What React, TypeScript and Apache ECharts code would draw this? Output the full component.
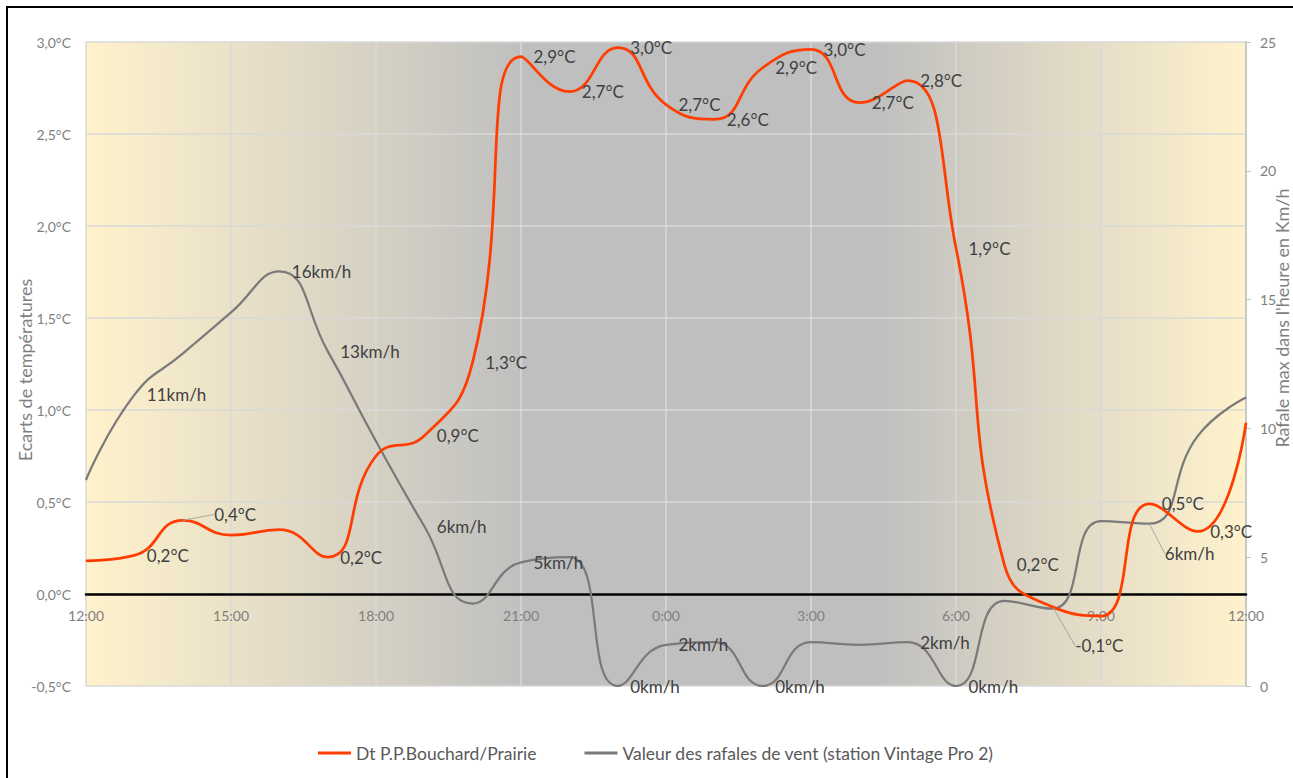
import React, { useEffect, useRef } from "react";
import * as echarts from "echarts";

// Hourly categories from 12:00 to 12:00 next day
const hours = [
  "12:00", "13:00", "14:00", "15:00", "16:00", "17:00", "18:00", "19:00", "20:00",
  "21:00", "22:00", "23:00", "0:00", "1:00", "2:00", "3:00", "4:00", "5:00",
  "6:00", "7:00", "8:00", "9:00", "10:00", "11:00", "12:00",
];

// Dt P.P.Bouchard/Prairie (°C)
const tempDiff = [
  0.18, 0.21, 0.40, 0.32, 0.35, 0.20, 0.75, 0.86, 1.26, 2.92, 2.73, 2.97, 2.66,
  2.58, 2.86, 2.96, 2.67, 2.79, 1.88, 0.16, -0.07, -0.12, 0.49, 0.34, 0.93,
];

// Wind gusts (km/h)
const windGust = [
  8.0, 11.3, 12.9, 14.5, 16.1, 13.0, 9.5, 6.2, 3.2, 4.8, 5.0, 0, 1.6, 1.7, 0,
  1.7, 1.6, 1.7, 0, 3.3, 3.0, 6.4, 6.3, 9.7, 11.2,
];

// Indices of points that carry a data label
const tempLabelIdx = [1, 2, 5, 7, 8, 9, 10, 11, 12, 13, 14, 15, 16, 17, 18, 19, 20, 22, 23];
const windLabelIdx = [1, 4, 5, 7, 9, 11, 12, 14, 17, 18, 22];

// Labels moved away from their points (with a leader line)
const tempMoved: Record<number, { dx: number; dy: number }> = { 2: { dx: 19, dy: -6 }, 20: { dx: 10, dy: 39 } };
const windMoved: Record<number, { dx: number; dy: number }> = { 22: { dx: 3, dy: 30 } };

const tempTicks = { min: -0.5, max: 3, interval: 0.5 };
const windTicks = { min: 0, max: 25, interval: 5 };

const FONT = "Lato, 'Open Sans', sans-serif";
const RED = "#ff3d00";
const GRAY = "#7a7a7a";

const fmtTemp = (v: number) => v.toFixed(1).replace(".", ",") + "°C";

export default function App() {
  const ref = useRef<HTMLDivElement>(null);

  useEffect(() => {
    if (!ref.current) return;
    const chart = echarts.init(ref.current, undefined, { renderer: "svg" });

    const labelBase = {
      position: "right" as const,
      distance: 12,
      color: "#404040",
      fontSize: 17,
      fontFamily: FONT,
    };

    const option: any = {
      animation: false,
      backgroundColor: "#ffffff",
      textStyle: { fontFamily: FONT },
      grid: {
        left: 86,
        right: 47,
        top: 42,
        bottom: 92,
        show: true,
        borderWidth: 0,
        backgroundColor: new echarts.graphic.LinearGradient(0, 0, 1, 0, [
          { offset: 0, color: "#fff2cc" },
          { offset: 0.38, color: "#bfbfbf" },
          { offset: 0.68, color: "#bfbfbf" },
          { offset: 1, color: "#fff2cc" },
        ]),
      },
      legend: {
        left: 318,
        top: 744,
        padding: 0,
        icon: "rect",
        itemWidth: 33,
        itemHeight: 3,
        itemGap: 48,
        textStyle: { color: "#595959", fontSize: 17.5, fontFamily: FONT },
        data: ["Dt P.P.Bouchard/Prairie", "Valeur des rafales de vent (station Vintage Pro 2)"],
      },
      xAxis: {
        type: "category",
        data: hours,
        boundaryGap: false,
        axisLine: { onZero: true, onZeroAxisIndex: 0, lineStyle: { color: "#000000", width: 2.5 } },
        axisTick: { show: false },
        axisLabel: { interval: 2, color: "#7f7f7f", fontSize: 14, fontFamily: FONT, margin: -78 },
        splitLine: { show: true, interval: 2, lineStyle: { color: "#d9d9d9", width: 1.5 } },
      },
      yAxis: [
        {
          type: "value",
          ...tempTicks,
          axisLine: { show: false },
          axisTick: { show: false },
          axisLabel: { color: "#7f7f7f", fontSize: 14, fontFamily: FONT, margin: 15, formatter: fmtTemp },
          splitLine: { show: true, lineStyle: { color: "#d9d9d9", width: 1.5 } },
        },
        {
          type: "value",
          ...windTicks,
          position: "right",
          axisLine: { show: true, lineStyle: { color: "#bfbfbf", width: 1.5 } },
          axisTick: { show: true, length: 5, lineStyle: { color: "#bfbfbf" } },
          axisLabel: { color: "#7f7f7f", fontSize: 14, fontFamily: FONT, margin: 14 },
          splitLine: { show: false },
        },
      ],
      graphic: [
        {
          type: "rect",
          shape: { x: 7, y: 7, width: 1400, height: 900 },
          style: { fill: "none", stroke: "#000000", lineWidth: 2 },
          silent: true,
        },
        {
          type: "text",
          x: 25,
          y: 370,
          rotation: Math.PI / 2,
          style: {
            text: "Ecarts de températures",
            align: "center",
            verticalAlign: "middle",
            fill: "#7f7f7f",
            font: `18px ${FONT}`,
          },
        },
        {
          type: "text",
          x: 1282,
          y: 318,
          rotation: Math.PI / 2,
          style: {
            text: "Rafale max dans l'heure en Km/h",
            align: "center",
            verticalAlign: "middle",
            fill: "#7f7f7f",
            font: `18px ${FONT}`,
          },
        },
      ],
      series: [
        {
          name: "Dt P.P.Bouchard/Prairie",
          type: "line",
          yAxisIndex: 0,
          smooth: 0.5,
          symbol: "circle",
          symbolSize: 1,
          z: 3,
          itemStyle: { color: RED },
          lineStyle: { color: RED, width: 2.75 },
          label: { ...labelBase, formatter: (p: any) => fmtTemp(p.value) },
          labelLine: { show: false, lineStyle: { color: "#a6a6a6", width: 1 } },
          labelLayout: (p: any) => tempMoved[p.dataIndex] || {},
          emphasis: { disabled: true },
          data: tempDiff.map((v, i) => ({
            value: v,
            label: { show: tempLabelIdx.includes(i) },
            labelLine: { show: !!tempMoved[i], lineStyle: { color: "#a6a6a6", width: 1 } },
          })),
        },
        {
          name: "Valeur des rafales de vent (station Vintage Pro 2)",
          type: "line",
          yAxisIndex: 1,
          smooth: 0.5,
          symbol: "circle",
          symbolSize: 1,
          z: 2,
          itemStyle: { color: GRAY },
          lineStyle: { color: GRAY, width: 2.25 },
          label: { ...labelBase, formatter: (p: any) => Math.round(p.value) + "km/h" },
          labelLine: { show: false, lineStyle: { color: "#a6a6a6", width: 1 } },
          labelLayout: (p: any) => windMoved[p.dataIndex] || {},
          emphasis: { disabled: true },
          data: windGust.map((v, i) => ({
            value: v,
            label: { show: windLabelIdx.includes(i) },
            labelLine: { show: !!windMoved[i], lineStyle: { color: "#a6a6a6", width: 1 } },
          })),
        },
      ],
    };

    chart.setOption(option);
    return () => chart.dispose();
  }, []);

  return (
    <div
      ref={ref}
      style={{ position: "absolute", left: 0, top: 0, width: 1293, height: 778 }}
    />
  );
}
